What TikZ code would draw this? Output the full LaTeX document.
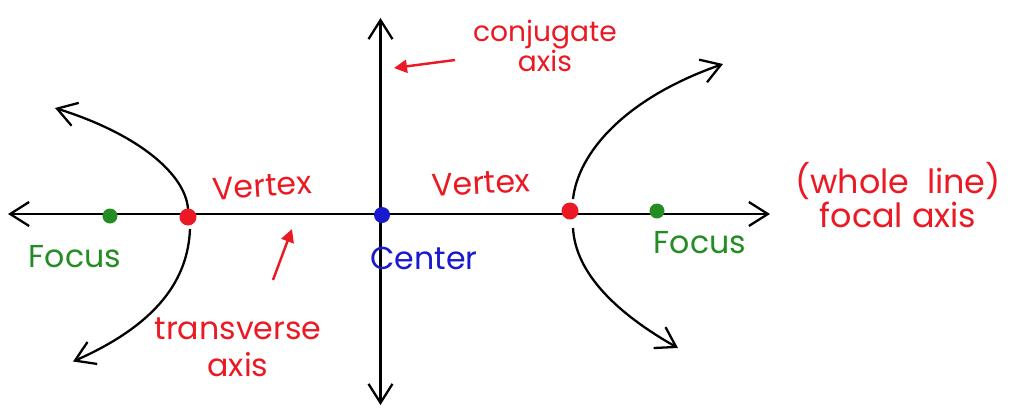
\documentclass[tikz,border=0pt]{standalone}
\usepackage{fontspec}
\setmainfont{Poppins}
\usetikzlibrary{arrows.meta}
\definecolor{penred}{RGB}{235,25,35}
\definecolor{pengreen}{RGB}{35,140,35}
\definecolor{penblue}{RGB}{25,25,205}

\begin{document}
\begin{tikzpicture}[>={Straight Barb[length=3.8mm,width=4.8mm]},line width=1.3pt,
		dot/.style={circle,fill=#1,inner sep=0pt,minimum size=3mm},
		label/.style={text=#1,font=\fontsize{18}{21}\selectfont,inner sep=0pt,align=center},
		pointer/.style={penred,line width=1.4pt,-{Triangle[length=2.6mm,width=2.6mm]}}]
		\useasboundingbox (-7.66,-3.88) rectangle (12.58,4.28);
		% axes
		\coordinate (west) at (-7.5,0);
		\coordinate (east) at (7.74,0);
		\coordinate (south) at (-0.05,-3.82);
		\coordinate (north) at (-0.05,3.92);
		\draw[<->] (west) -- (east);
		\draw[<->] (south) -- (north);
		% branches
		\coordinate (lvup) at (-3.9,0.1);
		\coordinate (lvdown) at (-3.86,-0.3);
		\coordinate (rvup) at (3.8,0.3);
		\coordinate (rvdown) at (3.8,-0.28);
		\coordinate (lupper) at (-6.56,2.12);
		\coordinate (llower) at (-6.2,-2.95);
		\coordinate (rupper) at (6.8,3.0);
		\coordinate (rlower) at (5.9,-2.68);
		\draw[->] (lvup) .. controls (-3.95,0.8) and (-4.9,1.6) .. (lupper);
		\draw[->] (lvdown) .. controls (-3.9,-1.3) and (-4.5,-2.2) .. (llower);
		\draw[->] (rvup) .. controls (3.9,1.2) and (4.8,2.3) .. (rupper);
		\draw[->] (rvdown) .. controls (3.85,-1.2) and (4.7,-2.0) .. (rlower);
		% points
		\node[dot=pengreen] (lfocus) at (-5.46,-0.04) {};
		\node[dot=penred,minimum height=3.4mm] (lvertex) at (-3.9,-0.06) {};
		\node[dot=penblue,minimum size=3.2mm] (center) at (-0.02,-0.02) {};
		\node[dot=penred,minimum height=3.4mm] (rvertex) at (3.74,0.06) {};
		\node[dot=pengreen] (rfocus) at (5.48,0.06) {};
		% labels
		\node[label=pengreen] (lfocuslabel) at (-6.16,-0.86) {Focus};
		\node[label=pengreen] (rfocuslabel) at (6.34,-0.58) {Focus};
		\node[label=penred,rotate=4] (lvertexlabel) at (-2.42,0.56) {Vertex};
		\node[label=penred,rotate=3] (rvertexlabel) at (1.96,0.62) {Vertex};
		\node[label=penblue] (centerlabel) at (0.82,-0.88) {Center};
		\node[label=penred,font=\fontsize{18}{21}\selectfont] (transverse) at (-2.9,-2.66) {transverse\\axis};
		\node[label=penred,font=\fontsize{16}{16}\selectfont] (conjugate) at (3.24,3.36) {conjugate\\axis};
		\node[label=penred,font=\fontsize{19}{19}\selectfont] (focal) at (10.3,0.38) {(whole\ \ line)\\focal axis};
		% pointers
		\coordinate (transtip) at (-1.82,-0.3);
		\coordinate (conjtip) at (0.22,2.92);
		\draw[pointer] (-2.2,-1.32) -- (transtip);
		\draw[pointer] (1.44,3.08) -- (conjtip);
	\end{tikzpicture}
\end{document}
